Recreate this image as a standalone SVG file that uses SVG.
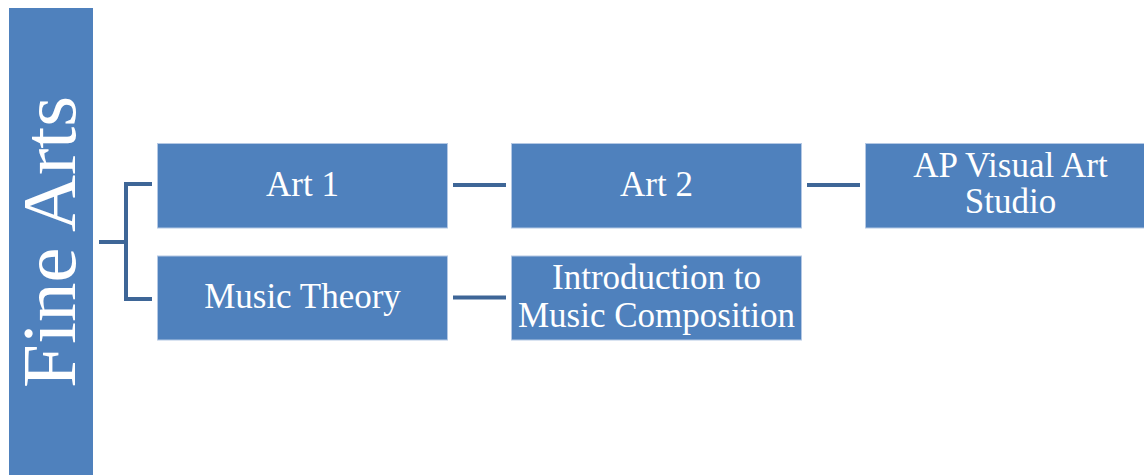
<svg xmlns="http://www.w3.org/2000/svg" width="1144" height="475" viewBox="0 0 1144 475">
<style>
.box{fill:#4F81BD;stroke:#B4C8E4;stroke-width:1}
.lbl{font-family:"Liberation Serif","Times New Roman",serif;font-size:35px;fill:#FFFFFF;text-anchor:middle}
.con{stroke:#3E6697;stroke-width:4;fill:none;stroke-linecap:butt}
</style>
<rect width="1144" height="475" fill="#FFFFFF"/>
<g id="fine-arts">
<rect x="9" y="8" width="84" height="470" fill="#4F81BD"/>
<text class="lbl" transform="translate(75,242) rotate(-90)" style="font-size:77px" textLength="292" lengthAdjust="spacingAndGlyphs">Fine Arts</text>
</g>
<g id="connectors">
<path class="con" d="M99,242 H126 M126,184 V299 M124,184 H152 M124,299 H152"/>
<path class="con" d="M453,185 H506"/>
<path class="con" d="M807,185 H860"/>
<path class="con" d="M453,297.5 H506"/>
</g>
<g id="art1">
<rect class="box" x="157.5" y="143.5" width="290" height="84.5"/>
<text class="lbl" x="302.5" y="196">Art 1</text>
</g>
<g id="music-theory">
<rect class="box" x="157.5" y="256" width="290" height="84"/>
<text class="lbl" x="302.5" y="307.5">Music Theory</text>
</g>
<g id="art2">
<rect class="box" x="511.5" y="143.5" width="290" height="84.5"/>
<text class="lbl" x="656.5" y="196">Art 2</text>
</g>
<g id="intro-music-composition">
<rect class="box" x="511.5" y="256" width="290" height="84"/>
<text class="lbl" x="656.5" y="289.3">Introduction to</text>
<text class="lbl" x="656.5" y="326.7">Music Composition</text>
</g>
<g id="ap-visual-art-studio">
<rect class="box" x="865.5" y="143.5" width="290" height="84.5"/>
<text class="lbl" x="1010.5" y="176.7">AP Visual Art</text>
<text class="lbl" x="1010.5" y="213.3">Studio</text>
</g>
</svg>
